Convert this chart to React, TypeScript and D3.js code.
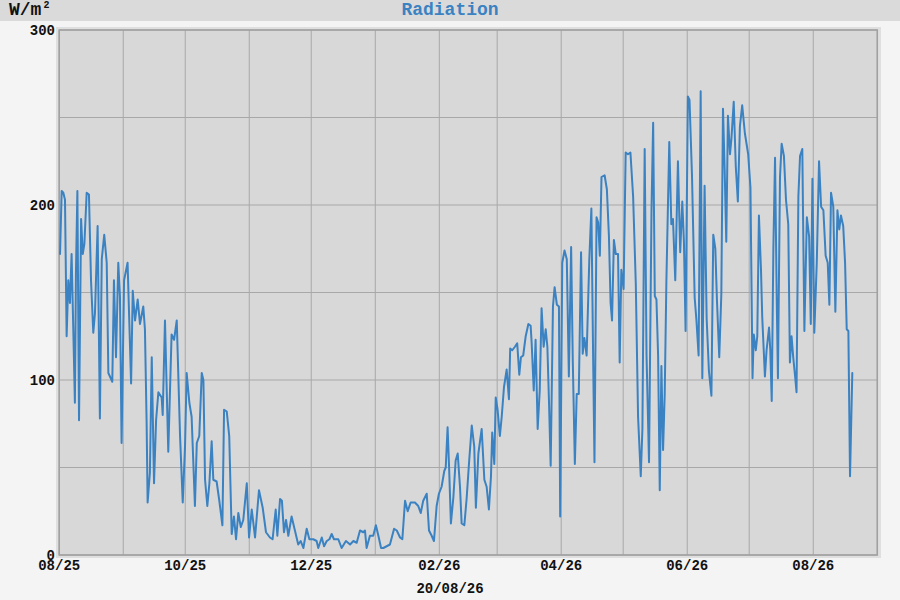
import React from "react";
import * as d3 from "d3";

// Days since 2025-08-01 (UTC) and daily mean radiation in W/m²
const dayOffsets: number[] = [
  0.4, 1.2, 2.0, 2.8, 3.6, 4.4, 5.2, 6.0, 6.8, 7.6, 8.1, 8.8, 9.6, 10.6, 11.4, 12.2, 13.3, 14.4, 15.4, 16.5,
  17.3, 18.6, 19.7, 20.6, 21.8, 23.0, 23.8, 25.7, 26.5, 27.5, 28.6, 29.4, 30.2, 31.4, 33.1, 34.8, 35.6, 36.7, 38.0, 39.1,
  40.7, 41.5, 42.3, 42.8, 43.9, 44.8, 45.9, 46.9, 48.0, 49.6, 50.1, 51.2, 52.8, 54.4, 55.6, 56.9, 58.5, 59.8, 60.9, 61.7,
  63.0, 64.1, 65.7, 66.6, 67.8, 69.0, 69.8, 70.6, 71.7, 72.7, 73.8, 74.6, 76.2, 77.5, 79.0, 79.8, 81.1, 82.3, 83.5, 84.6,
  85.6, 86.7, 87.9, 89.1, 90.8, 91.9, 93.2, 94.8, 96.7, 98.5, 100.1, 102.0, 103.3, 104.8, 105.6, 106.9, 107.8, 108.8, 109.8, 110.9,
  112.5, 114.1, 115.7, 116.9, 118.2, 119.8, 121.1, 123.0, 124.6, 125.4, 127.1, 128.2, 129.5, 130.8, 131.9, 133.0, 135.1, 136.7, 138.8, 140.8,
  142.4, 144.0, 145.6, 147.2, 148.0, 148.8, 150.4, 152.0, 153.3, 154.5, 155.8, 156.9, 158.5, 160.1, 162.1, 163.4, 165.0, 166.1, 167.4, 168.7,
  170.1, 172.2, 173.8, 175.0, 176.2, 177.9, 179.0, 180.3, 181.4, 182.7, 183.8, 185.1, 186.4, 187.1, 188.0, 188.7, 189.6, 190.8, 191.9, 192.9,
  194.0, 194.8, 196.1, 197.2, 198.4, 199.7, 200.9, 201.7, 202.9, 204.5, 205.8, 206.9, 208.0, 209.0, 209.6, 210.6, 211.3, 212.2, 213.3, 214.2,
  215.3, 216.6, 217.7, 218.3, 219.3, 220.6, 221.7, 222.7, 223.5, 224.6, 225.8, 227.1, 228.2, 228.7, 229.7, 230.6, 231.6, 232.6, 233.5, 234.5,
  235.5, 236.3, 237.1, 237.9, 239.0, 239.8, 240.9, 241.9, 242.5, 243.5, 244.6, 245.7, 246.7, 247.8, 248.6, 249.6, 250.5, 251.5, 252.6, 253.4,
  254.2, 255.3, 256.6, 257.6, 258.5, 259.1, 260.1, 260.9, 261.7, 262.5, 264.0, 265.1, 266.1, 266.9, 267.6, 268.5, 269.4, 270.5, 271.3, 272.1,
  273.2, 274.2, 275.3, 276.5, 277.8, 279.1, 280.2, 281.5, 282.3, 283.4, 284.3, 285.5, 286.7, 287.5, 288.3, 289.1, 289.9, 290.7, 291.5, 292.3,
  293.1, 293.9, 295.3, 296.3, 297.1, 298.2, 299.5, 300.6, 301.6, 302.4, 303.2, 304.3, 305.1, 306.3, 307.6, 308.4, 309.5, 310.5, 311.3, 312.4,
  313.4, 314.5, 315.7, 316.6, 317.6, 318.4, 319.5, 320.5, 321.3, 322.1, 322.9, 323.7, 324.7, 325.4, 326.5, 327.5, 328.5, 329.5, 330.6, 331.9,
  333.5, 334.6, 335.6, 336.2, 337.2, 337.9, 338.7, 339.7, 340.3, 341.6, 342.4, 343.6, 344.2, 344.9, 345.7, 346.5, 347.3, 347.9, 348.9, 349.7,
  350.8, 351.8, 352.9, 353.7, 354.5, 355.3, 356.3, 356.9, 357.8, 358.6, 359.7, 360.7, 361.9, 363.0, 363.8, 364.6, 365.5, 366.7, 367.8, 368.8,
  369.9, 371.0, 372.0, 372.8, 373.6, 374.7, 375.7, 376.7, 377.6, 378.4, 379.5, 380.4, 381.2, 382.0, 382.8, 383.9,
];

const radiation: number[] = [
  172, 208, 207, 203, 125, 157, 144, 172, 130, 87, 161, 208, 77, 192, 172, 178, 207, 206, 157, 127,
  138, 188, 78, 169, 183, 167, 104, 99, 157, 113, 167, 148, 64, 157, 167, 98, 151, 134, 146, 132,
  142, 129, 77, 30, 47, 113, 41, 77, 93, 90, 80, 134, 59, 126, 123, 134, 68, 30, 62, 104,
  87, 79, 28, 64, 68, 104, 100, 43, 28, 41, 65, 43, 42, 31, 17, 83, 82, 68, 12, 22,
  9, 24, 16, 20, 41, 10, 26, 10, 37, 27, 13, 10, 9, 26, 11, 32, 31, 13, 20, 11,
  22, 14, 6, 8, 4, 15, 9, 9, 8, 4, 10, 5, 8, 9, 12, 9, 9, 4, 8, 6,
  8, 7, 14, 13, 14, 4, 11, 11, 17, 11, 4, 4, 5, 6, 15, 14, 10, 9, 31, 25,
  30, 30, 28, 24, 31, 35, 14, 11, 8, 28, 35, 39, 48, 50, 73, 51, 18, 33, 54, 58,
  39, 18, 17, 32, 53, 74, 62, 27, 58, 72, 43, 39, 26, 45, 70, 52, 90, 83, 68, 79,
  96, 106, 89, 118, 117, 119, 121, 103, 113, 114, 125, 132, 131, 121, 94, 123, 72, 94, 141, 119,
  129, 119, 87, 51, 142, 153, 143, 142, 22, 167, 174, 169, 102, 176, 111, 52, 92, 92, 173, 115,
  124, 114, 169, 198, 108, 53, 193, 190, 171, 216, 217, 209, 182, 144, 134, 180, 172, 172, 110, 163,
  152, 230, 229, 230, 205, 155, 79, 45, 72, 232, 114, 53, 197, 247, 148, 146, 114, 37, 108, 60,
  92, 156, 236, 189, 192, 157, 225, 173, 202, 179, 128, 262, 260, 217, 147, 135, 114, 265, 101, 211,
  135, 105, 91, 183, 175, 145, 113, 149, 255, 221, 179, 251, 229, 238, 259, 222, 202, 245, 257, 241,
  229, 210, 101, 126, 117, 125, 194, 163, 136, 102, 117, 130, 117, 88, 176, 227, 148, 101, 216, 235,
  228, 203, 189, 110, 125, 113, 101, 93, 205, 228, 232, 128, 193, 182, 132, 215, 127, 167, 225, 199,
  197, 171, 167, 143, 207, 199, 139, 197, 186, 194, 188, 167, 129, 128, 45, 104,
];

const yGridValues: number[] = [0, 50, 100, 150, 200, 250, 300];
const yLabelValues: number[] = [0, 100, 200, 300];
const chartTitle = "Radiation";
const unitLabel = "W/m";
const dateLabel = "20/08/26";

const START = new Date(Date.UTC(2025, 7, 1));
const END = new Date(Date.UTC(2026, 8, 1));
const DAY_MS = 86400000;

const FONT = "'Liberation Mono', 'Courier New', monospace";
const BLUE = "#3b82c2";

export default function App() {
  const x = d3.scaleUtc().domain([START, END]).range([59.2, 877.3]);
  const y = d3.scaleLinear().domain([0, 300]).range([555, 30]);

  const points: [Date, number][] = dayOffsets.map((d, i) => [
    new Date(START.getTime() + d * DAY_MS),
    radiation[i],
  ]);
  const line = d3
    .line<[Date, number]>()
    .x((p) => x(p[0]))
    .y((p) => y(p[1]));

  const months = d3.utcMonth.range(START, d3.utcDay.offset(END, 1));
  const labelMonths = months.filter((_, i) => i % 2 === 0 && months[i] < END);
  const fmt = d3.utcFormat("%m/%y");

  return (
    <svg
      width={900}
      height={600}
      style={{ position: "absolute", left: 0, top: 0, display: "block" }}
    >
      <rect x={0} y={0} width={900} height={600} fill="#f4f4f4" />
      <rect x={0} y={0} width={900} height={21} fill="#dadada" />

      <text x={9} y={15} fontFamily={FONT} fontWeight="bold" fontSize={18} fill="#111">
        {unitLabel}
        <tspan dx={2} dy={-7} fontSize={10}>2</tspan>
      </text>
      <text
        x={450}
        y={15}
        textAnchor="middle"
        fontFamily={FONT}
        fontWeight="bold"
        fontSize={18}
        fill={BLUE}
      >
        {chartTitle}
      </text>

      <rect x={56} y={27} width={825} height={531} fill="#dfdfdf" />
      <rect x={x(START)} y={y(300)} width={x(END) - x(START)} height={y(0) - y(300)} fill="#d8d8d8" />

      {yGridValues.map((v) => (
        <line key={"gy" + v} x1={x(START)} x2={x(END)} y1={y(v)} y2={y(v)} stroke="#a8a8a8" strokeWidth={1} />
      ))}
      {months.map((m) => (
        <line key={"gx" + m.getTime()} x1={x(m)} x2={x(m)} y1={y(300)} y2={y(0)} stroke="#a8a8a8" strokeWidth={1} />
      ))}
      <rect
        x={x(START)}
        y={y(300)}
        width={x(END) - x(START)}
        height={y(0) - y(300)}
        fill="none"
        stroke="#a0a0a0"
        strokeWidth={1.5}
      />

      <path
        d={line(points) || ""}
        fill="none"
        stroke={BLUE}
        strokeWidth={2}
        strokeLinejoin="round"
        strokeLinecap="round"
      />

      {yLabelValues.map((v) => (
        <text
          key={"yl" + v}
          x={55}
          y={y(v)}
          dy="0.35em"
          textAnchor="end"
          fontFamily={FONT}
          fontWeight="bold"
          fontSize={14}
          fill="#111"
        >
          {v}
        </text>
      ))}
      {labelMonths.map((m) => (
        <text
          key={"xl" + m.getTime()}
          x={x(m)}
          y={570}
          textAnchor="middle"
          fontFamily={FONT}
          fontWeight="bold"
          fontSize={14}
          fill="#111"
        >
          {fmt(m)}
        </text>
      ))}
      <text x={450} y={593} textAnchor="middle" fontFamily={FONT} fontWeight="bold" fontSize={14} fill="#111">
        {dateLabel}
      </text>
    </svg>
  );
}
